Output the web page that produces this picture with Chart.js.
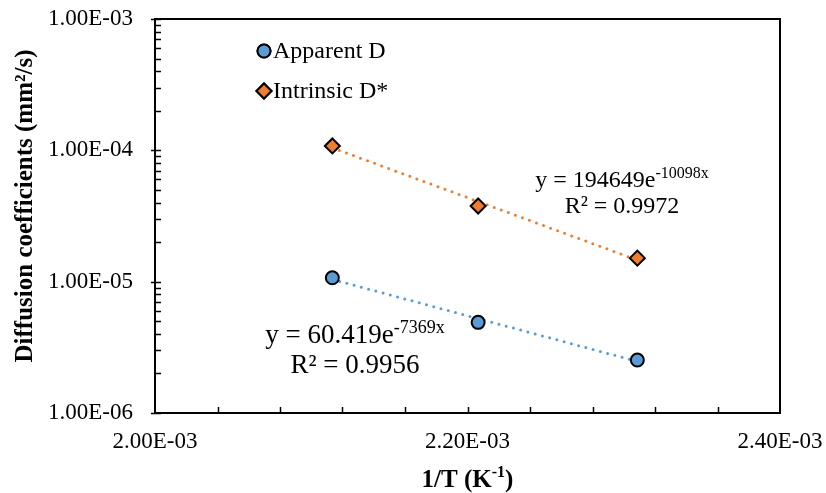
<!DOCTYPE html>
<html><head><meta charset="utf-8">
<script src="https://cdn.jsdelivr.net/npm/chart.js@4/dist/chart.umd.min.js"></script>
<style>html,body{margin:0;padding:0;background:#fff}#wrap{width:826px;height:493px}</style>
</head><body><div id="wrap"><canvas id="c" width="826" height="493"></canvas></div>
<script>
// ---- data ----
const invT = [0.0021135, 0.0022068, 0.0023087];          // 1/T (K^-1)
const apparentD = [1.07e-5, 4.9e-6, 2.53e-6];             // mm²/s
const intrinsicD = [1.08e-4, 3.77e-5, 1.51e-5];           // mm²/s
const trendX = [0.0021135, 0.0023087];
const apparentTrend = [1.04e-5, 2.47e-6];
const intrinsicTrend = [1.045e-4, 1.46e-5];
const xTicks = [0.0020, 0.0022, 0.0024];
const yTicks = [1e-6, 1e-5, 1e-4, 1e-3];
const seriesNames = ['Apparent D', 'Intrinsic D*'];
const eqApparent = ['y = 60.419e', '-7369x', 'R² = 0.9956'];
const eqIntrinsic = ['y = 194649e', '-10098x', 'R² = 0.9972'];
const xTitle = ['1/T (K', '-1', ')'];
const yTitle = 'Diffusion coefficients (mm²/s)';

const BLUE = '#5B9BD5', ORANGE = '#ED7D31';
const FONT = '"Liberation Serif", "Times New Roman", serif';

function fmtE(v) {
  return v.toExponential(2).toUpperCase().replace(/E([+-])(\d)$/, 'E$10$2').replace('E+', 'E');
}

const pts = (xs, ys) => xs.map((x, i) => ({x: x, y: ys[i]}));
const noPad = s => { s.paddingTop = 0; s.paddingBottom = 0; s.paddingLeft = 0; s.paddingRight = 0; };

const overlay = {
  id: 'overlay',
  afterDraw(chart) {
    const ctx = chart.ctx, ca = chart.chartArea;
    const xs = chart.scales.x, ys = chart.scales.y;
    ctx.save();
    // frame
    ctx.strokeStyle = '#000'; ctx.lineWidth = 2;
    ctx.strokeRect(ca.left, ca.top, ca.right - ca.left, ca.bottom - ca.top);
    // y minor ticks
    ctx.lineWidth = 1.5;
    ctx.beginPath();
    for (let d = 0; d < yTicks.length - 1; d++) {
      for (let m = 2; m <= 9; m++) {
        const py = Math.round(ys.getPixelForValue(yTicks[d] * m)) + 0.5;
        ctx.moveTo(ca.left, py); ctx.lineTo(ca.left + 6, py);
      }
    }
    yTicks.forEach(v => {
      const py = Math.round(ys.getPixelForValue(v)) + 0.5;
      ctx.moveTo(ca.left - 4, py); ctx.lineTo(ca.left + 6, py);
    });
    // x minor ticks
    const step = (xTicks[1] - xTicks[0]) / 5;
    for (let i = 1; i < 10; i++) {
      const px = Math.round(xs.getPixelForValue(xTicks[0] + step * i)) + 0.5;
      ctx.moveTo(px, ca.bottom); ctx.lineTo(px, ca.bottom - 6);
    }
    ctx.stroke();

    // legend
    const legendItems = [
      {name: seriesNames[0], style: 'circle', color: BLUE, r: 6.5, y: ca.top + 32},
      {name: seriesNames[1], style: 'rectRot', color: ORANGE, r: 7.5, y: ca.top + 72}
    ];
    ctx.font = '24px ' + FONT; ctx.fillStyle = '#000';
    ctx.textBaseline = 'middle'; ctx.textAlign = 'left';
    legendItems.forEach(it => {
      ctx.fillStyle = it.color; ctx.strokeStyle = '#000'; ctx.lineWidth = 2;
      Chart.helpers.drawPoint(ctx, {pointStyle: it.style, radius: it.r, rotation: 0, borderWidth: 2}, ca.left + 109, it.y);
      ctx.fill(); ctx.stroke();
      ctx.fillStyle = '#000';
      ctx.fillText(it.name, ca.left + 118, it.y + 1);
    });

    // equations
    function eq(lines, cx, by, fs, gap) {
      const fsS = Math.round(fs * 0.66);
      ctx.textBaseline = 'alphabetic'; ctx.textAlign = 'left'; ctx.fillStyle = '#000';
      ctx.font = fs + 'px ' + FONT; const w1 = ctx.measureText(lines[0]).width;
      ctx.font = fsS + 'px ' + FONT; const w2 = ctx.measureText(lines[1]).width;
      const x0 = cx - (w1 + w2) / 2;
      ctx.font = fs + 'px ' + FONT; ctx.fillText(lines[0], x0, by);
      ctx.font = fsS + 'px ' + FONT; ctx.fillText(lines[1], x0 + w1, by - fs * 0.38);
      ctx.font = fs + 'px ' + FONT; ctx.textAlign = 'center';
      ctx.fillText(lines[2], cx, by + gap);
    }
    eq(eqIntrinsic, ca.left + 467, ca.top + 168, 24, 26);
    eq(eqApparent, ca.left + 200, ca.top + 324, 27, 30);

    // x title
    ctx.textBaseline = 'alphabetic'; ctx.textAlign = 'left';
    ctx.font = 'bold 25px ' + FONT; const a = ctx.measureText(xTitle[0]).width, c = ctx.measureText(xTitle[2]).width;
    ctx.font = 'bold 16px ' + FONT; const b = ctx.measureText(xTitle[1]).width;
    let x0 = (ca.left + ca.right) / 2 - (a + b + c) / 2;
    const by = 487;
    ctx.font = 'bold 25px ' + FONT; ctx.fillText(xTitle[0], x0, by);
    ctx.font = 'bold 16px ' + FONT; ctx.fillText(xTitle[1], x0 + a, by - 10);
    ctx.font = 'bold 25px ' + FONT; ctx.fillText(xTitle[2], x0 + a + b, by);

    // y title
    ctx.translate(26, 206); ctx.rotate(-Math.PI / 2);
    ctx.textAlign = 'center'; ctx.textBaseline = 'middle';
    ctx.font = 'bold 25px ' + FONT; ctx.fillText(yTitle, 0, 0);
    ctx.restore();
  }
};

new Chart(document.getElementById('c'), {
  type: 'scatter',
  data: {
    datasets: [
      {label: seriesNames[0], data: pts(invT, apparentD), backgroundColor: BLUE, borderColor: '#000',
       pointStyle: 'circle', pointRadius: 6.5, pointBorderWidth: 2, order: 1},
      {label: seriesNames[1], data: pts(invT, intrinsicD), backgroundColor: ORANGE, borderColor: '#000',
       pointStyle: 'rectRot', pointRadius: 7.5, pointBorderWidth: 2, order: 1},
      {label: 'trend A', data: pts(trendX, apparentTrend), showLine: true, pointRadius: 0, borderColor: BLUE,
       borderWidth: 3, borderDash: [0, 7.5], borderCapStyle: 'round', order: 2},
      {label: 'trend I', data: pts(trendX, intrinsicTrend), showLine: true, pointRadius: 0, borderColor: ORANGE,
       borderWidth: 3, borderDash: [0, 7.5], borderCapStyle: 'round', order: 2}
    ]
  },
  options: {
    responsive: false, animation: false, devicePixelRatio: 1,
    layout: {padding: {left: 0, top: 19, right: 46, bottom: 0}},
    plugins: {legend: {display: false}, tooltip: {enabled: false}},
    scales: {
      x: {
        type: 'linear', min: xTicks[0], max: xTicks[xTicks.length - 1],
        afterBuildTicks: s => { s.ticks = xTicks.map(v => ({value: v})); },
        afterFit: s => { s.height = 80; noPad(s); },
        ticks: {callback: v => fmtE(v), font: {family: FONT, size: 23}, color: '#000', padding: 15, maxRotation: 0, autoSkip: false},
        grid: {drawOnChartArea: false, drawTicks: false},
        border: {display: true, color: '#000', width: 2}
      },
      y: {
        type: 'logarithmic', min: yTicks[0], max: yTicks[yTicks.length - 1],
        afterBuildTicks: s => { s.ticks = yTicks.map(v => ({value: v})); },
        afterFit: s => { s.width = 155; noPad(s); },
        ticks: {callback: v => fmtE(v), font: {family: FONT, size: 23}, color: '#000', padding: 22, autoSkip: false},
        grid: {drawOnChartArea: false, drawTicks: false},
        border: {display: true, color: '#000', width: 2}
      }
    }
  },
  plugins: [overlay]
});
</script></body></html>
